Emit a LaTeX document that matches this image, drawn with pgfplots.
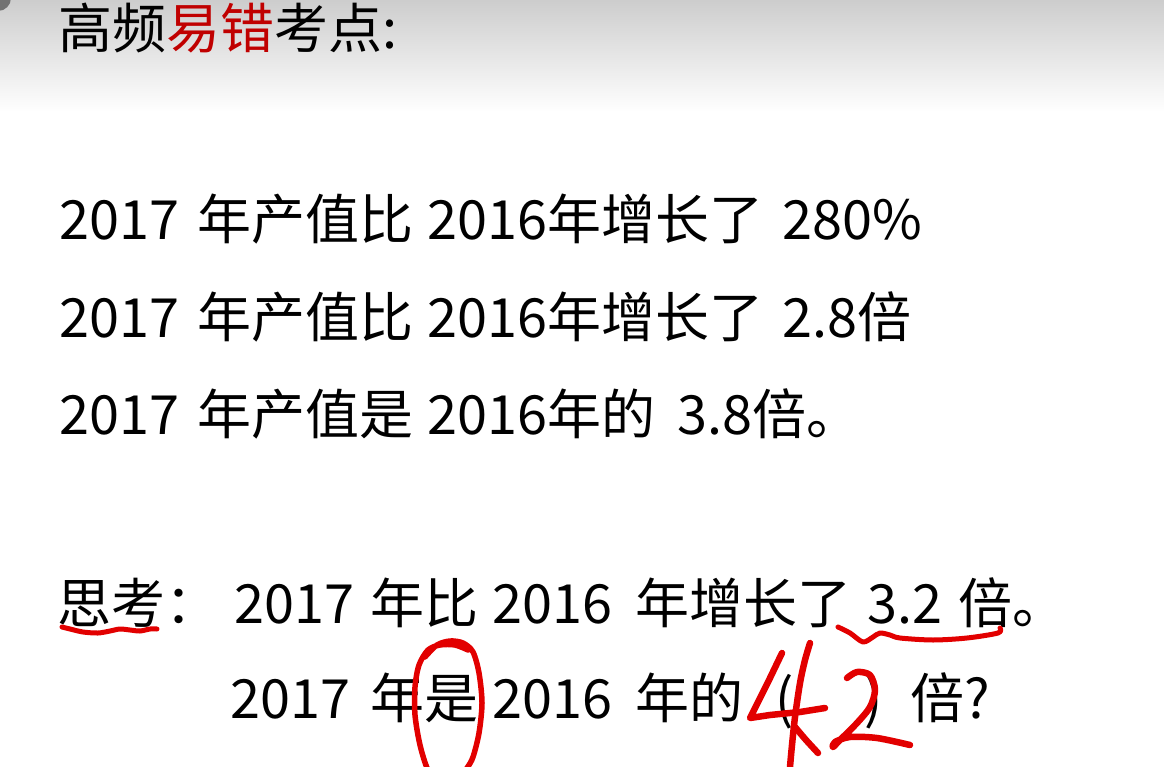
\documentclass[border=0pt]{standalone}
\usepackage{fontspec}
\setmainfont{Noto Sans CJK SC}
\usepackage{pgfplots}
\pgfplotsset{compat=1.18}
\definecolor{titlered}{RGB}{192,0,0}
\definecolor{pen}{RGB}{226,0,0}
\definecolor{topgray}{RGB}{205,205,205}
\newcommand{\T}[3]{\node[anchor=base west,inner sep=0pt,font=\fontsize{54}{60}\selectfont] at (axis cs:#1,#2) {#3};}
\begin{document}
\begin{tikzpicture}
\begin{axis}[name=ax, width=1164pt, height=767pt, scale only axis,
  xmin=0, xmax=1164, ymin=0, ymax=767, y dir=reverse, hide axis, clip=false]
% background gradient
\fill[top color=topgray, bottom color=white] (axis cs:0,0) rectangle (axis cs:1164,112);
\fill[black!55] (axis cs:-2,-2) circle[radius=13pt];
% title
\T{58}{49}{高频\textcolor{titlered}{易错}考点:}
% line 1
\T{59}{240}{2017}
\T{197}{240}{年产值比}
\T{427}{240}{2016}
\T{547}{240}{年增长了}
\T{782}{240}{280\%}
% line 2
\T{59}{337}{2017}
\T{197}{337}{年产值比}
\T{427}{337}{2016}
\T{547}{337}{年增长了}
\T{782}{337}{2.8倍}
% line 3
\T{59}{434}{2017}
\T{197}{434}{年产值是}
\T{427}{434}{2016}
\T{547}{434}{年的}
\T{677}{434}{3.8倍。}
% line 4
\T{57}{623}{思考：}
\T{234}{623}{2017}
\T{370}{623}{年比}
\T{492}{623}{2016}
\T{635}{623}{年增长了}
\T{867}{623}{3.2}
\T{958}{623}{倍。}
% line 5
\T{230}{718}{2017}
\T{370}{718}{年是}
\T{492}{718}{2016}
\T{635}{718}{年的}
\T{775}{718}{(}
\T{864}{718}{)}
\T{910}{718}{倍?}
% handwriting
\addplot[pen, line width=5pt, smooth, line cap=round, line join=round] coordinates {
(62,627) (70,629) (83,632) (98,633) (110,631) (120,629) (130,630) (140,631) (150,629) (157,629)};
\addplot[pen, line width=5pt, smooth, line cap=round, line join=round] coordinates {
(838,627) (850,633) (863,642) (873,637) (880,633) (890,635) (900,638) (933,640) (967,638) (998,633) (1000,628)};
\addplot[pen, line width=5.5pt, smooth, line cap=round, line join=round] coordinates {
(425,657) (437,645) (450,641) (463,643) (473,652) (479,673) (482,703) (479,733) (473,757) (467,768) (455,785) (440,785) (428,770) (420,745) (415,715) (415,687) (419,665) (428,650) (440,645) (455,645) (468,650)};
\addplot[pen, line width=6.5pt, line cap=round, line join=round] coordinates {
(782,653) (770,678) (758,702) (750,718) (770,715) (800,712) (825,708)};
\addplot[pen, line width=6.5pt, smooth, line cap=round] coordinates {
(810,643) (805,660) (800,683) (795,717) (792,745) (790,767) (789,780)};
\addplot[pen, line width=6.5pt, smooth, line cap=round] coordinates {
(795,727) (806,740) (818,753)};
\addplot[pen, line width=6.5pt, smooth, line cap=round, line join=round] coordinates {
(847,678) (857,672) (870,675) (875,690) (870,707) (857,723) (840,740) (833,747) (835,742) (850,737) (877,738) (910,745)};
\end{axis}
\pgfresetboundingbox
\path[use as bounding box] (ax.south west) rectangle (ax.north east);
\end{tikzpicture}
\end{document}
